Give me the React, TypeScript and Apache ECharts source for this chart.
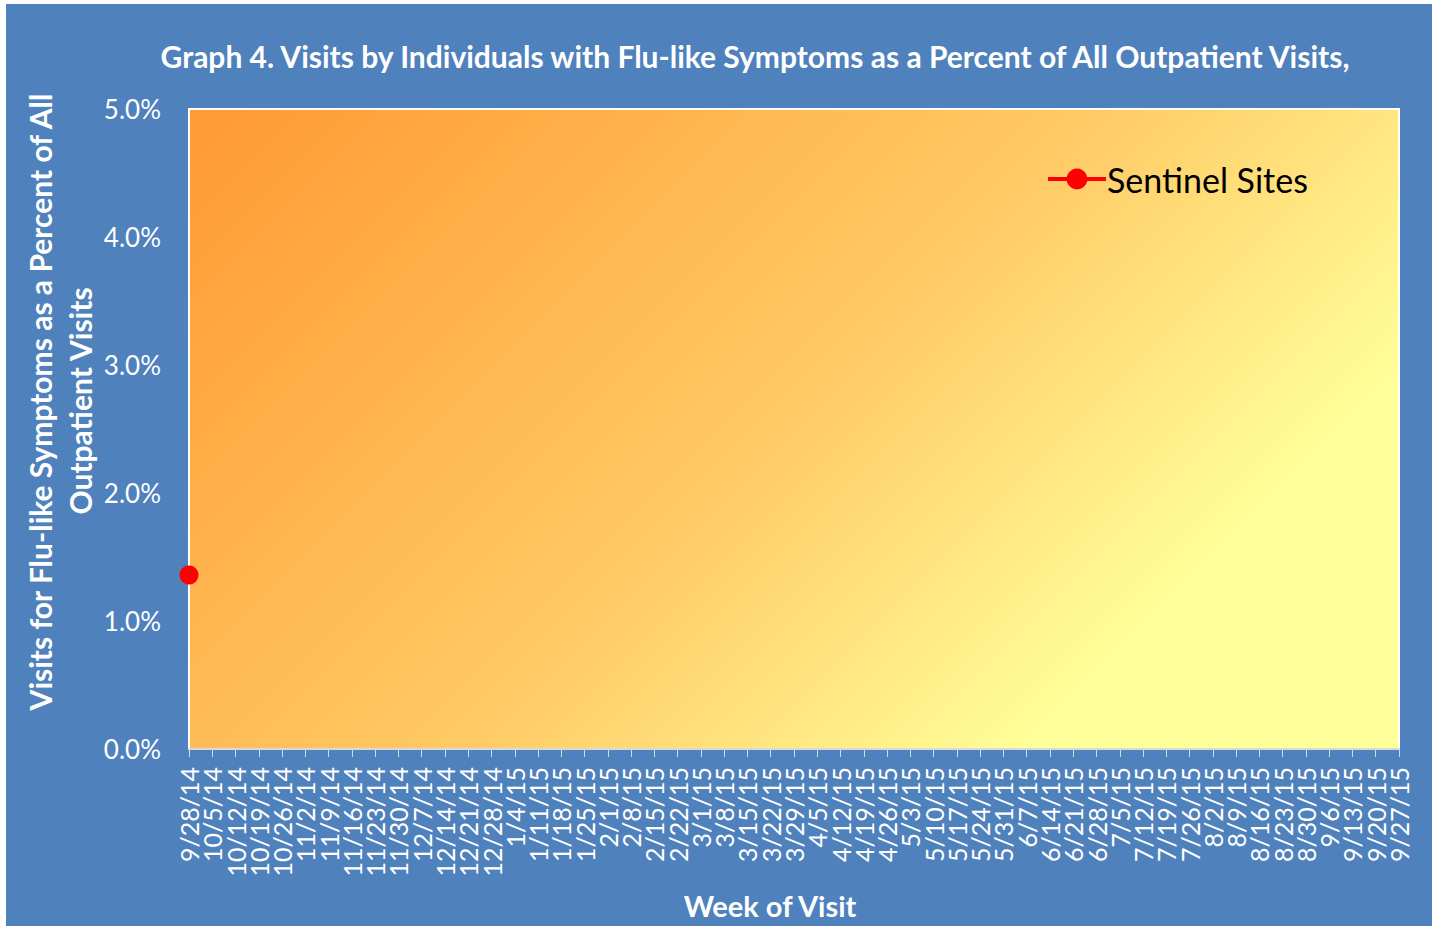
import React, { useEffect, useRef } from "react";
import * as echarts from "echarts";

const weeks: string[] = [
  "9/28/14", "10/5/14", "10/12/14", "10/19/14", "10/26/14", "11/2/14", "11/9/14", "11/16/14",
  "11/23/14", "11/30/14", "12/7/14", "12/14/14", "12/21/14", "12/28/14", "1/4/15", "1/11/15",
  "1/18/15", "1/25/15", "2/1/15", "2/8/15", "2/15/15", "2/22/15", "3/1/15", "3/8/15",
  "3/15/15", "3/22/15", "3/29/15", "4/5/15", "4/12/15", "4/19/15", "4/26/15", "5/3/15",
  "5/10/15", "5/17/15", "5/24/15", "5/31/15", "6/7/15", "6/14/15", "6/21/15", "6/28/15",
  "7/5/15", "7/12/15", "7/19/15", "7/26/15", "8/2/15", "8/9/15", "8/16/15", "8/23/15",
  "8/30/15", "9/6/15", "9/13/15", "9/20/15", "9/27/15",
];

// Only the first week has a value; the rest are not yet reported.
const sentinelKnown: number[] = [1.36];
const sentinelSites: (number | null)[] = weeks.map((_, i) =>
  i < sentinelKnown.length ? sentinelKnown[i] : null
);

const titleText =
  "Graph 4. Visits by Individuals with Flu-like Symptoms as a Percent of All Outpatient Visits,";
const yNameLine1 = "Visits for Flu-like Symptoms as a Percent of All";
const yNameLine2 = "Outpatient Visits";
const xName = "Week of Visit";
const seriesName = "Sentinel Sites";

const FONT = "Lato";

export default function App() {
  const ref = useRef<HTMLDivElement>(null);

  useEffect(() => {
    if (!ref.current) return;
    const chart = echarts.init(ref.current, undefined, { renderer: "svg" });

    const gLeft = 189;
    const gTop = 109;
    const gRight = 1399;
    const gBottom = 749;

    chart.setOption({
      animation: false,
      backgroundColor: "#FFFFFF",
      graphic: [
        {
          type: "rect",
          z: -10,
          silent: true,
          shape: { x: 6, y: 4, width: 1426, height: 922 },
          style: { fill: "#4F81BD" },
        },
        {
          type: "text",
          x: 755,
          y: 56,
          style: {
            text: titleText,
            fill: "#FFFFFF",
            font: `bold 30px ${FONT}`,
            textAlign: "center",
            textVerticalAlign: "middle",
          },
        },
        {
          type: "text",
          x: 40,
          y: 402,
          rotation: Math.PI / 2,
          style: {
            text: yNameLine1,
            fill: "#FFFFFF",
            font: `bold 30px ${FONT}`,
            textAlign: "center",
            textVerticalAlign: "middle",
          },
        },
        {
          type: "text",
          x: 80,
          y: 401,
          rotation: Math.PI / 2,
          style: {
            text: yNameLine2,
            fill: "#FFFFFF",
            font: `bold 30px ${FONT}`,
            textAlign: "center",
            textVerticalAlign: "middle",
          },
        },
        {
          type: "text",
          x: 770,
          y: 905,
          style: {
            text: xName,
            fill: "#FFFFFF",
            font: `bold 29px ${FONT}`,
            textAlign: "center",
            textVerticalAlign: "middle",
          },
        },
      ],
      legend: {
        left: 1041,
        top: 157,
        data: [seriesName],
        itemWidth: 58,
        itemHeight: 26,
        itemStyle: { color: "#FF0000" },
        lineStyle: { color: "#FF0000", width: 4 },
        textStyle: { color: "#000000", fontSize: 34, fontFamily: FONT, padding: [0, 0, 0, -4] },
      },
      grid: {
        left: gLeft,
        top: gTop,
        right: 1434 - gRight,
        bottom: 926 - gBottom,
        show: true,
        borderColor: "#FFFFFF",
        borderWidth: 2,
        backgroundColor: new echarts.graphic.LinearGradient(
          gLeft,
          gTop,
          gLeft + 925,
          gTop + 925,
          [
            { offset: 0, color: "#FF9933" },
            { offset: 0.5, color: "#FFCB66" },
            { offset: 0.8, color: "#FFFF99" },
            { offset: 1, color: "#FFFF99" },
          ],
          true
        ),
      },
      xAxis: {
        type: "category",
        data: weeks,
        boundaryGap: false,
        axisLine: { show: true, lineStyle: { color: "#D9D9D9", width: 2 } },
        axisTick: {
          show: true,
          alignWithLabel: true,
          length: 8,
          lineStyle: { color: "#D9D9D9", width: 1 },
        },
        axisLabel: {
          interval: 0,
          rotate: 90,
          margin: 18,
          color: "#FFFFFF",
          fontSize: 25,
          fontFamily: FONT,
        },
        splitLine: { show: false },
      },
      yAxis: {
        type: "value",
        min: 0,
        max: 5,
        interval: 1,
        axisLine: { show: false },
        axisTick: { show: false },
        splitLine: { show: false },
        axisLabel: {
          margin: 28,
          color: "#FFFFFF",
          fontSize: 26,
          fontFamily: FONT,
          formatter: (v: number) => v.toFixed(1) + "%",
        },
      },
      series: [
        {
          name: seriesName,
          type: "line",
          data: sentinelSites,
          connectNulls: false,
          symbol: "circle",
          symbolSize: 19,
          showSymbol: true,
          itemStyle: { color: "#FF0000" },
          lineStyle: { color: "#FF0000", width: 4 },
          clip: false,
        },
      ],
    });

    return () => chart.dispose();
  }, []);

  return (
    <div
      ref={ref}
      style={{ position: "absolute", left: 0, top: 0, width: 1434, height: 926 }}
    />
  );
}
